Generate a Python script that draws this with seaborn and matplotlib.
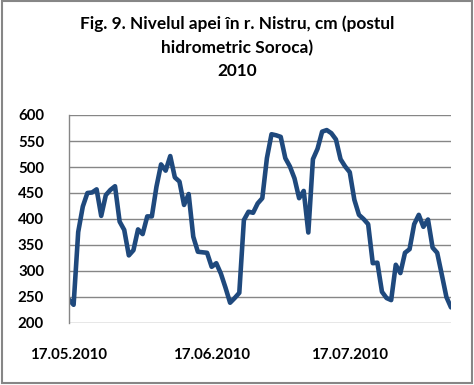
import matplotlib
matplotlib.use("Agg")
import matplotlib.pyplot as plt
import matplotlib.dates as mdates
from matplotlib.patches import Rectangle
import seaborn as sns
import pandas as pd

start_date = "2010-05-17"
levels = [245, 235, 375, 424, 450, 451, 457, 406, 446, 456,
          463, 395, 379, 330, 340, 380, 371, 405, 405, 462,
          505, 493, 521, 480, 472, 427, 448, 366, 337, 336,
          335, 308, 315, 295, 268, 239, 248, 258, 398, 414,
          412, 430, 440, 517, 563, 561, 558, 517, 501, 478,
          440, 454, 374, 515, 535, 568, 571, 565, 553, 515,
          501, 490, 437, 408, 400, 390, 315, 316, 260, 248,
          244, 312, 296, 335, 342, 390, 408, 385, 399, 345,
          335, 293, 250, 230]
tick_labels = ["17.05.2010", "17.06.2010", "17.07.2010"]
y_ticks = [200, 250, 300, 350, 400, 450, 500, 550, 600]
title_lines = ["Fig. 9. Nivelul apei în r. Nistru, cm (postul",
               "hidrometric Soroca)",
               "2010"]

dates = pd.date_range(start_date, periods=len(levels), freq="D")
df = pd.DataFrame({"date": dates, "level": levels})

sns.set_style("white")
plt.rcParams["font.family"] = ["Lato", "DejaVu Sans"]

W, H = 474, 385
fig = plt.figure(figsize=(W / 100, H / 100), dpi=100)
ax = fig.add_axes([69 / W, 1 - 323 / H, (451 - 69) / W, (323 - 115) / H])

sns.lineplot(data=df, x="date", y="level", ax=ax, color="#1F497D",
             linewidth=3.3, solid_joinstyle="round", solid_capstyle="round")

ax.set_ylim(200, 600)
ax.set_yticks(y_ticks)
ax.set_xlim(dates[0], dates[-1])
tick_pos = [pd.to_datetime(t, format="%d.%m.%Y") for t in tick_labels]
ax.set_xticks(tick_pos)
ax.set_xticklabels(tick_labels)
ax.set_xlabel("")
ax.set_ylabel("")

ax.grid(axis="y", color="#868686", linewidth=1.0)
ax.grid(axis="x", visible=False)
ax.set_axisbelow(True)
for s in ["top", "right", "bottom"]:
    ax.spines[s].set_visible(False)
ax.spines["left"].set_color("#868686")
ax.spines["left"].set_linewidth(1.0)

ax.tick_params(axis="y", length=0, pad=18, labelsize=10.8)
ax.tick_params(axis="x", length=0, pad=18, labelsize=10.8)
for lab in ax.get_xticklabels() + ax.get_yticklabels():
    lab.set_fontweight("bold")
    lab.set_color("black")

title_y = [24, 48, 71]
for line, yy in zip(title_lines, title_y):
    fig.text(237 / W, 1 - yy / H, line, ha="center", va="center",
             fontsize=12.4, fontweight="bold", color="black")

fig.patches.append(Rectangle((1.5 / W, 1 - 383 / H), 470.5 / W, 382.5 / H,
                             transform=fig.transFigure, fill=False,
                             edgecolor="#868686", linewidth=1.5))

fig.savefig("out.png", dpi=100)
